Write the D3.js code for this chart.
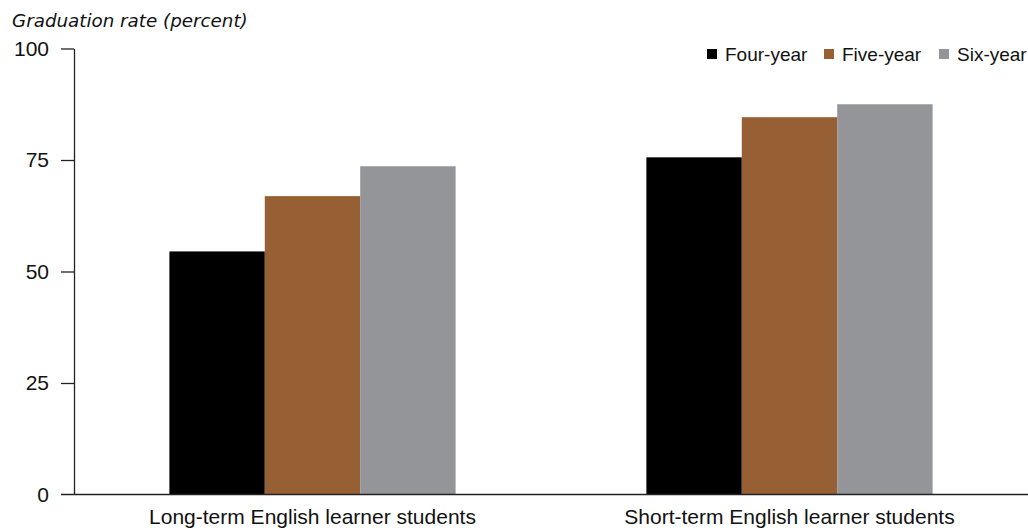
<!DOCTYPE html>
<html><head><meta charset="utf-8">
<script src="https://cdn.jsdelivr.net/npm/d3@7"></script>
<style>body{margin:0;background:#fff}svg{display:block}text{font-family:"Liberation Sans",Arial,sans-serif;fill:#111}</style>
</head><body>
<script>
const categories = ["Long-term English learner students", "Short-term English learner students"];
const seriesNames = ["Four-year", "Five-year", "Six-year"];
const fourYear = [54.5, 75.6];
const fiveYear = [66.9, 84.6];
const sixYear = [73.6, 87.5];
const yTicks = [0, 25, 50, 75, 100];
const colors = ["#000000", "#975f34", "#949599"];

const W = 1028, H = 531;
const svg = d3.select("body").append("svg").attr("width", W).attr("height", H);
const x0 = d3.scaleBand().domain(categories).range([74, 1028]).paddingInner(0.4).paddingOuter(0.2);
const x1 = d3.scaleBand().domain(seriesNames).range([0, x0.bandwidth()]);
const y = d3.scaleLinear().domain([0, 100]).range([494.5, 48.5]);
const values = [fourYear, fiveYear, sixYear];

const g = svg.append("g");
categories.forEach((c, i) => {
  seriesNames.forEach((s, j) => {
    g.append("rect").attr("x", x0(c) + x1(s)).attr("width", x1.bandwidth())
      .attr("y", y(values[j][i])).attr("height", y(0) - y(values[j][i])).attr("fill", colors[j]);
  });
});

const yAxis = svg.append("g").attr("transform", "translate(74,0)")
  .call(d3.axisLeft(y).tickValues(yTicks).tickSize(13).tickPadding(12).tickSizeOuter(0));
yAxis.select(".domain").attr("stroke", "#222").attr("stroke-width", 1.3);
yAxis.selectAll(".tick line").attr("stroke", "#222").attr("stroke-width", 1.3);
yAxis.selectAll(".tick text").style("font-size", "21px").attr("fill", "#111");
yAxis.selectAll(".tick").filter(d => d === 0).select("line").remove();

const xAxis = svg.append("g").attr("transform", `translate(0,${y(0)})`)
  .call(d3.axisBottom(x0).tickSize(0).tickPadding(15));
xAxis.select(".domain").attr("d", `M61,0H1028`).attr("stroke", "#222").attr("stroke-width", 1.3);
xAxis.selectAll(".tick text").style("font-size", "21px").attr("fill", "#111").attr("dy", "0.71em");

svg.append("text").attr("x", 12).attr("y", 27).style("font-family", "'DejaVu Sans', sans-serif")
  .style("font-size", "18.3px").style("font-style", "italic")
  .text("Graduation rate (percent)");

const legendX = [707, 824, 939];
seriesNames.forEach((s, j) => {
  svg.append("rect").attr("x", legendX[j]).attr("y", 49).attr("width", 10).attr("height", 10).attr("fill", colors[j]);
  svg.append("text").attr("x", legendX[j] + 18).attr("y", 61).style("font-size", "19px").text(s);
});
</script>
</body></html>
